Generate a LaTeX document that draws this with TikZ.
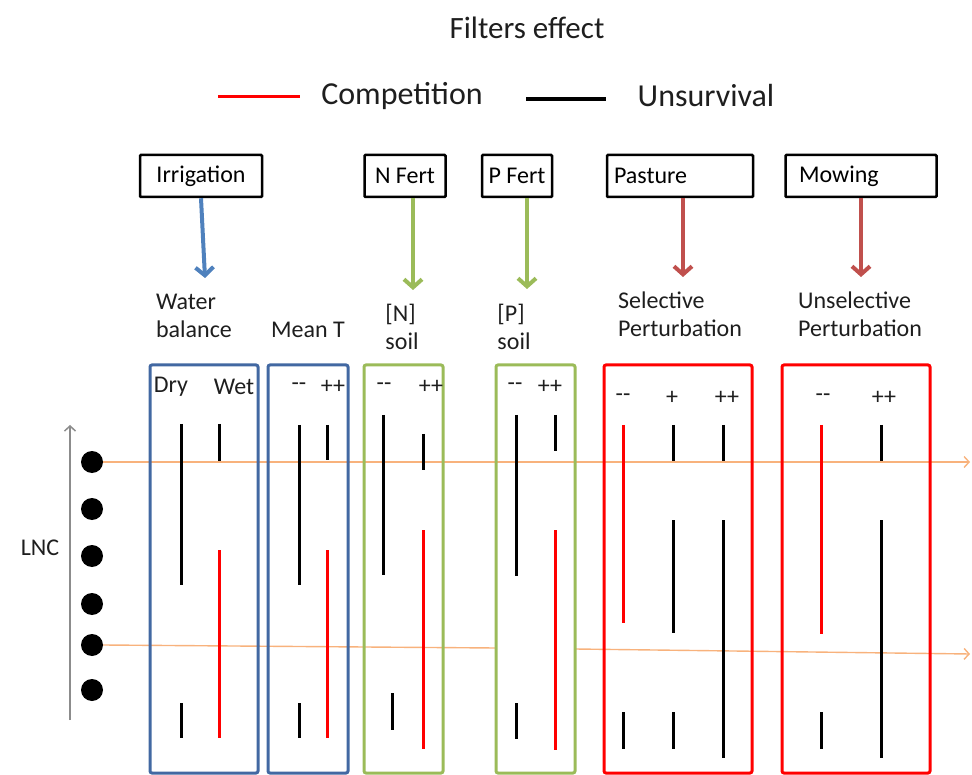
\documentclass[tikz,border=0pt]{standalone}
\usepackage{fontspec}
\setmainfont{Carlito}
\usetikzlibrary{arrows.meta}
\definecolor{boxblue}{RGB}{66,104,162}
\definecolor{arrowblue}{RGB}{79,129,189}
\definecolor{leafgreen}{RGB}{155,187,89}
\definecolor{arrowred}{RGB}{192,80,77}
\definecolor{lineorange}{RGB}{248,178,124}
\definecolor{axisgrey}{RGB}{140,140,140}
\definecolor{textgrey}{RGB}{30,30,30}

\tikzset{
  filter/.style={draw=black, line width=2.5pt, rounded corners=1pt, minimum height=42pt, inner sep=0pt, font=\fontsize{24}{24}\selectfont},
  effect/.style={align=left, text=textgrey, font=\fontsize{24}{28}\selectfont},
  colhead/.style={text=textgrey, font=\fontsize{24}{24}\selectfont},
  push/.style={line width=4pt, -{Straight Barb[length=8pt,width=18pt]}},
  colbox/.style={line width=3pt, rounded corners=2pt},
  unsurv/.style={line width=3pt, black},
  compet/.style={line width=3pt, red},
  dot/.style={circle, fill=black, minimum size=22pt, inner sep=0pt},
  lnc/.style={draw=lineorange, line width=1.4pt}
}

\begin{document}
\begin{tikzpicture}[x=1pt, y=-1pt]
    \useasboundingbox (0,0) rectangle (972,775);

    % 1. titre et legende
    \node[text=textgrey, font=\fontsize{31}{31}\selectfont] (title) at (527,28) {Filters effect};
    \draw[compet] (218,97) -- (300,97);
    \node[text=textgrey, font=\fontsize{32}{32}\selectfont] (comp) at (402,96) {Competition};
    \draw[unsurv, line width=4.5pt] (526,99) -- (606,99);
    \node[text=textgrey, font=\fontsize{32}{32}\selectfont] (unsurv) at (706,96) {Unsurvival};

    % 2. les filtres (boites du haut)
    \node[filter, minimum width=122pt] (irr) at (201,176) {Irrigation};
    \node[filter, minimum width=81pt] (nfert) at (405,176) {N Fert};
    \node[filter, minimum width=70pt] (pfert) at (517,176) {P Fert};
    \node[filter, minimum width=146pt, text width=132pt, align=left] (past) at (680,176) {Pasture};
    \node[filter, minimum width=151pt, text width=124pt, align=left] (mow) at (861,176) {Mowing};

    % 3. les facteurs
    \node[effect] (wb) at (194,316) {Water\\balance};
    \node[effect] (meant) at (308,330) {Mean T};
    \node[effect] (nsoil) at (402,327) {[N]\\soil};
    \node[effect] (psoil) at (514,327) {[P]\\soil};
    \node[effect] (selp) at (680,314) {Selective\\Perturbation};
    \node[effect] (unselp) at (860,314) {Unselective\\Perturbation};

    % fleches filtre -> facteur
    \coordinate (wbtip) at (205,278);
    \coordinate (ntip) at (413,290);
    \coordinate (ptip) at (527,289);
    \coordinate (selptip) at (683,277);
    \coordinate (unselptip) at (861,277);
    \draw[push, arrowblue] (irr.south) -- (wbtip);
    \draw[push, leafgreen] (nfert.south -| ntip) -- (ntip);
    \draw[push, leafgreen] (pfert.south -| ptip) -- (ptip);
    \draw[push, arrowred] (past.south -| selptip) -- (selptip);
    \draw[push, arrowred] (mow.south -| unselptip) -- (unselptip);

    % 4. axe LNC et points
    \coordinate (axlow) at (70,720);
    \coordinate (axhigh) at (70,425);
    \draw[axisgrey, line width=1.5pt, -{Straight Barb[length=5pt,width=11pt]}] (axlow) -- (axhigh);
    \node[text=textgrey, font=\fontsize{24}{24}\selectfont] (lnc) at (40,548) {LNC};
    \foreach \y [count=\i] in {462,509,556,604,645,690}
        \node[dot] (d\i) at (92,\y) {};

    % lignes orange (coupe)
    \coordinate (l1end) at (970,462);
    \coordinate (l2a) at (496,648);
    \coordinate (l2b) at (575,649);
    \coordinate (l2end) at (970,654);
    \draw[lnc, -{Straight Barb[length=5pt,width=11pt]}] (d1.east) -- (l1end);
    \draw[lnc] (d5.east) -- (l2a);
    \draw[lnc, -{Straight Barb[length=5pt,width=11pt]}] (l2b) -- (l2end);

    % 5. les colonnes
    \draw[colbox, boxblue] (150,365) rectangle (258,773);
    \draw[colbox, boxblue] (268,365) rectangle (348,773);
    \draw[colbox, leafgreen] (364,365) rectangle (443,773);
    \draw[colbox, leafgreen] (496,365) rectangle (575,773);
    \draw[colbox, red] (604,365) rectangle (752,773);
    \draw[colbox, red] (782,365) rectangle (930,773);

    % entetes de colonnes
    \node[colhead] (dry) at (171,387) {Dry};
    \node[colhead] (wet) at (234,387) {Wet};
    \node[colhead] (tlow) at (299,387) {-{}-};
    \node[colhead] (thigh) at (333,387) {++};
    \node[colhead] (nlow) at (384,387) {-{}-};
    \node[colhead] (nhigh) at (431,387) {++};
    \node[colhead] (plow) at (515,387) {-{}-};
    \node[colhead] (phigh) at (550,387) {++};
    \node[colhead] (slow) at (623,398) {-{}-};
    \node[colhead] (smid) at (672,398) {+};
    \node[colhead] (shigh) at (727,398) {++};
    \node[colhead] (ulow) at (823,398) {-{}-};
    \node[colhead] (uhigh) at (884,398) {++};

    % barres (noir = unsurvival, rouge = competition)
    \foreach \x/\ya/\yb in {181/424/585, 181/703/738, 219/424/461,
        299/425/585, 299/703/738, 327/425/460,
        383/415/575, 392/693/730, 423/434/470,
        516/415/576, 516/703/739, 555/415/451,
        623/712/749, 673/425/461, 673/520/633, 673/712/749,
        723/425/461, 723/520/758,
        821/712/749, 881/425/461, 881/520/758}
        \draw[unsurv] (\x,\ya) -- (\x,\yb);
    \foreach \x/\ya/\yb in {219/550/738, 327/550/738, 423/530/749,
        555/530/750, 623/425/623, 821/425/634}
        \draw[compet] (\x,\ya) -- (\x,\yb);

\end{tikzpicture}
\end{document}
